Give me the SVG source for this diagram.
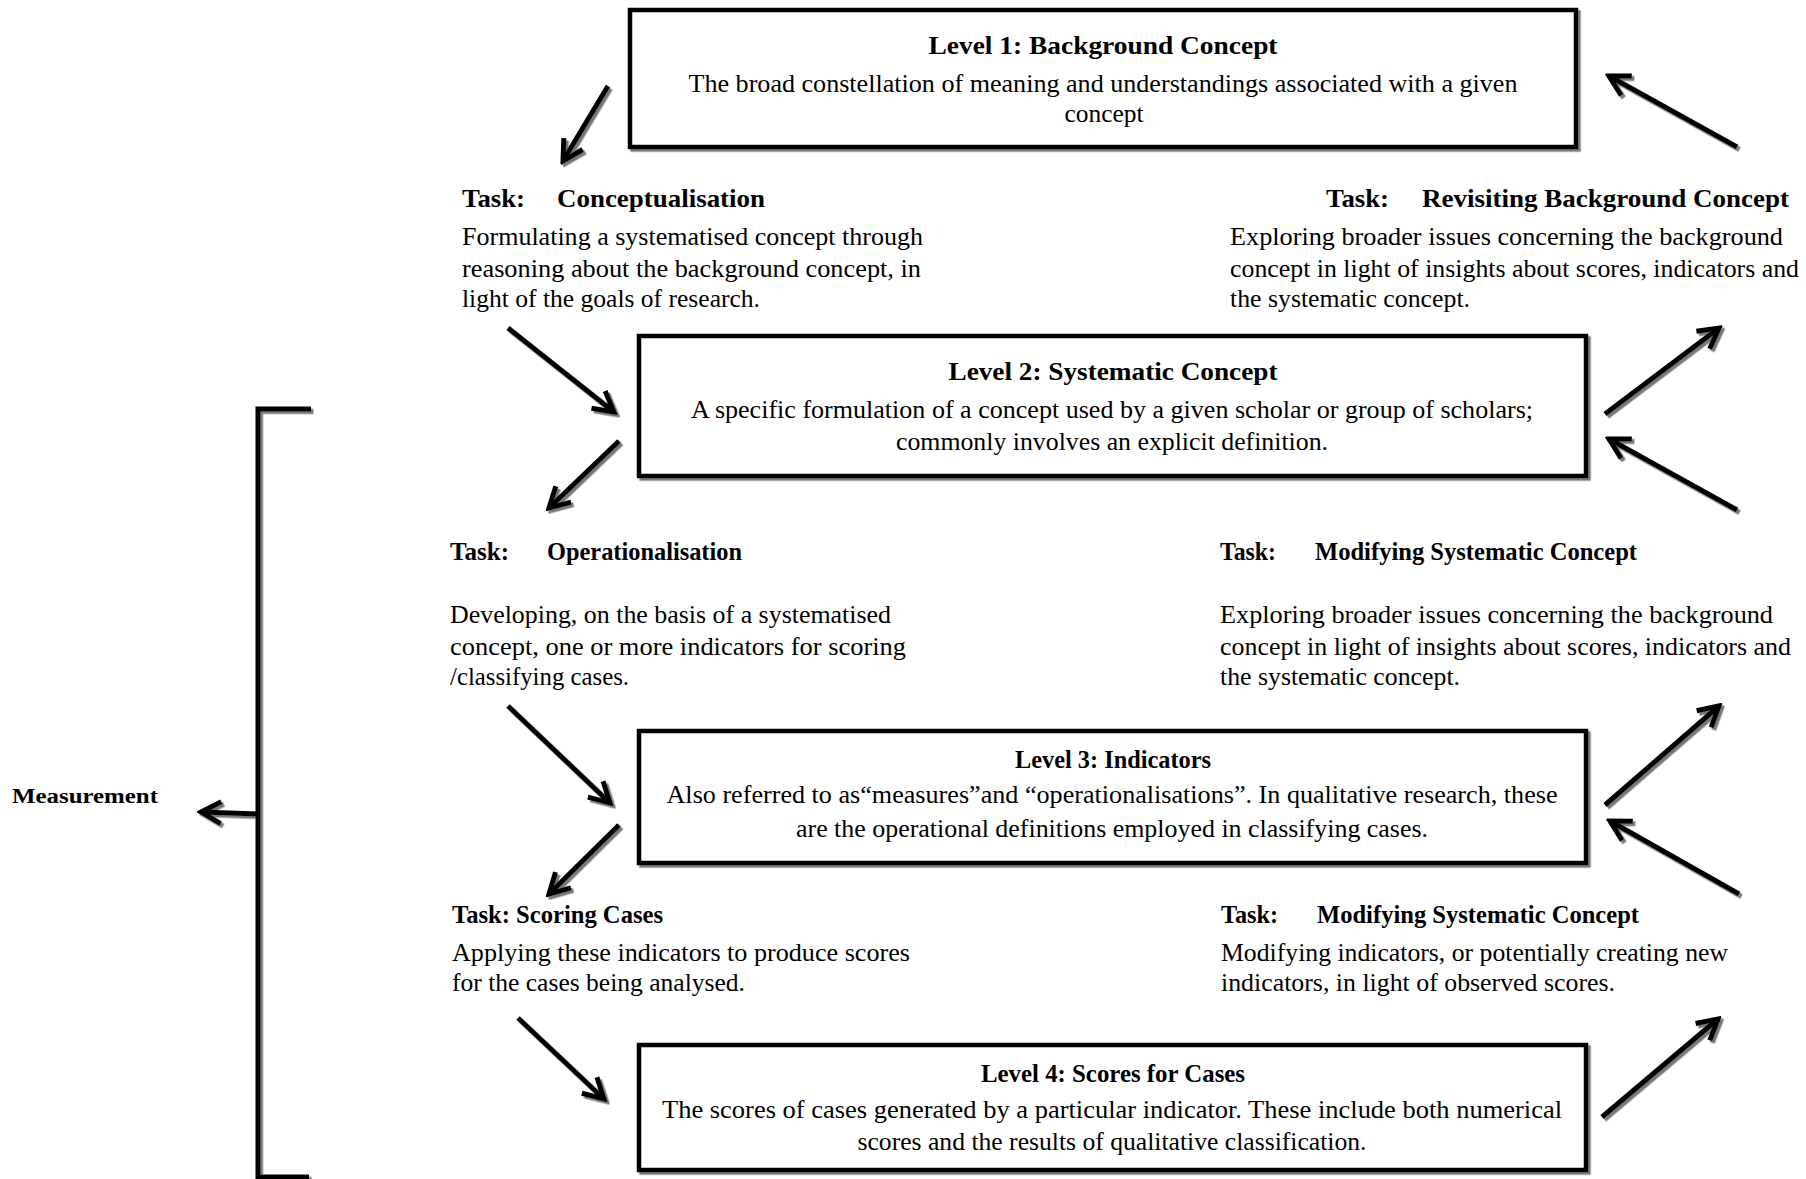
<svg xmlns="http://www.w3.org/2000/svg" width="1806" height="1179" viewBox="0 0 1806 1179">
<style>
.box{fill:#fff;stroke:#000;stroke-width:4.5}
.t{font-family:"Liberation Serif",serif;fill:#000}
.title{font-size:26px;font-weight:bold;text-anchor:middle}
.body{font-size:25px}
.bc{text-anchor:middle}
.task{font-size:26px;font-weight:bold}
.meas{font-family:"Liberation Serif",serif;font-size:22px;font-weight:bold}
.ln{stroke:#000;stroke-width:5;fill:none;stroke-linecap:butt}
</style>
<defs>
<filter id="sh" x="-20%" y="-20%" width="140%" height="140%">
<feDropShadow dx="2.5" dy="2.5" stdDeviation="0.7" flood-color="#777" flood-opacity="1"/>
</filter>
<marker id="ah" viewBox="0 0 28 28" refX="24" refY="14" markerWidth="28" markerHeight="28" markerUnits="userSpaceOnUse" orient="auto">
<path d="M4,3 L24,14 L4,25" fill="none" stroke="#000" stroke-width="5" stroke-linejoin="miter"/>
</marker>
</defs>
<rect width="1806" height="1179" fill="#fff"/>

<g id="level1">
<rect class="box" x="630" y="10" width="946" height="137" filter="url(#sh)"/>
<text class="t title" x="1103" y="54" textLength="349" lengthAdjust="spacingAndGlyphs">Level 1: Background Concept</text>
<text class="t body bc" x="1103" y="92" textLength="829" lengthAdjust="spacingAndGlyphs">The broad constellation of meaning and understandings associated with a given</text>
<text class="t body bc" x="1104" y="122" textLength="79" lengthAdjust="spacingAndGlyphs">concept</text>
</g>

<g id="task-conceptualisation">
<text class="t task" x="462" y="207" textLength="63" lengthAdjust="spacingAndGlyphs">Task:</text>
<text class="t task" x="557" y="207" textLength="208" lengthAdjust="spacingAndGlyphs">Conceptualisation</text>
<text class="t body" x="462" y="245" textLength="461" lengthAdjust="spacingAndGlyphs">Formulating a systematised concept through</text>
<text class="t body" x="462" y="277" textLength="459" lengthAdjust="spacingAndGlyphs">reasoning about the background concept, in</text>
<text class="t body" x="462" y="307" textLength="298" lengthAdjust="spacingAndGlyphs">light of the goals of research.</text>
</g>

<g id="task-revisiting">
<text class="t task" x="1326" y="207" textLength="63" lengthAdjust="spacingAndGlyphs">Task:</text>
<text class="t task" x="1422" y="207" textLength="367" lengthAdjust="spacingAndGlyphs">Revisiting Background Concept</text>
<text class="t body" x="1230" y="245" textLength="553" lengthAdjust="spacingAndGlyphs">Exploring broader issues concerning the background</text>
<text class="t body" x="1230" y="277" textLength="569" lengthAdjust="spacingAndGlyphs">concept in light of insights about scores, indicators and</text>
<text class="t body" x="1230" y="307" textLength="240" lengthAdjust="spacingAndGlyphs">the systematic concept.</text>
</g>

<g id="level2">
<rect class="box" x="639" y="336" width="947" height="140" filter="url(#sh)"/>
<text class="t title" x="1113" y="380" textLength="329" lengthAdjust="spacingAndGlyphs">Level 2: Systematic Concept</text>
<text class="t body bc" x="1112" y="418" textLength="842" lengthAdjust="spacingAndGlyphs">A specific formulation of a concept used by a given scholar or group of scholars;</text>
<text class="t body bc" x="1112" y="450" textLength="432" lengthAdjust="spacingAndGlyphs">commonly involves an explicit definition.</text>
</g>

<g id="task-operationalisation">
<text class="t task" x="450" y="560" textLength="59" lengthAdjust="spacingAndGlyphs">Task:</text>
<text class="t task" x="547" y="560" textLength="195" lengthAdjust="spacingAndGlyphs">Operationalisation</text>
<text class="t body" x="450" y="623" textLength="441" lengthAdjust="spacingAndGlyphs">Developing, on the basis of a systematised</text>
<text class="t body" x="450" y="655" textLength="456" lengthAdjust="spacingAndGlyphs">concept, one or more indicators for scoring</text>
<text class="t body" x="450" y="685" textLength="179" lengthAdjust="spacingAndGlyphs">/classifying cases.</text>
</g>

<g id="task-modifying-1">
<text class="t task" x="1220" y="560" textLength="56" lengthAdjust="spacingAndGlyphs">Task:</text>
<text class="t task" x="1315" y="560" textLength="322" lengthAdjust="spacingAndGlyphs">Modifying Systematic Concept</text>
<text class="t body" x="1220" y="623" textLength="553" lengthAdjust="spacingAndGlyphs">Exploring broader issues concerning the background</text>
<text class="t body" x="1220" y="655" textLength="571" lengthAdjust="spacingAndGlyphs">concept in light of insights about scores, indicators and</text>
<text class="t body" x="1220" y="685" textLength="240" lengthAdjust="spacingAndGlyphs">the systematic concept.</text>
</g>

<g id="level3">
<rect class="box" x="639" y="731" width="947" height="132" filter="url(#sh)"/>
<text class="t title" x="1113" y="768" textLength="196" lengthAdjust="spacingAndGlyphs">Level 3: Indicators</text>
<text class="t body bc" x="1112" y="803" textLength="891" lengthAdjust="spacingAndGlyphs">Also referred to as“measures”and “operationalisations”. In qualitative research, these</text>
<text class="t body bc" x="1112" y="837" textLength="632" lengthAdjust="spacingAndGlyphs">are the operational definitions employed in classifying cases.</text>
</g>

<g id="task-scoring">
<text class="t task" x="452" y="923" textLength="211" lengthAdjust="spacingAndGlyphs">Task: Scoring Cases</text>
<text class="t body" x="452" y="961" textLength="458" lengthAdjust="spacingAndGlyphs">Applying these indicators to produce scores</text>
<text class="t body" x="452" y="991" textLength="293" lengthAdjust="spacingAndGlyphs">for the cases being analysed.</text>
</g>

<g id="task-modifying-2">
<text class="t task" x="1221" y="923" textLength="57" lengthAdjust="spacingAndGlyphs">Task:</text>
<text class="t task" x="1317" y="923" textLength="322" lengthAdjust="spacingAndGlyphs">Modifying Systematic Concept</text>
<text class="t body" x="1221" y="961" textLength="507" lengthAdjust="spacingAndGlyphs">Modifying indicators, or potentially creating new</text>
<text class="t body" x="1221" y="991" textLength="394" lengthAdjust="spacingAndGlyphs">indicators, in light of observed scores.</text>
</g>

<g id="level4">
<rect class="box" x="639" y="1045" width="947" height="125" filter="url(#sh)"/>
<text class="t title" x="1113" y="1082" textLength="264" lengthAdjust="spacingAndGlyphs">Level 4: Scores for Cases</text>
<text class="t body bc" x="1112" y="1118" textLength="900" lengthAdjust="spacingAndGlyphs">The scores of cases generated by a particular indicator. These include both numerical</text>
<text class="t body bc" x="1112" y="1150" textLength="509" lengthAdjust="spacingAndGlyphs">scores and the results of qualitative classification.</text>
</g>

<g id="measurement">
<text class="meas" x="12" y="803" textLength="146" lengthAdjust="spacingAndGlyphs">Measurement</text>
</g>

<g id="connectors" filter="url(#sh)">
<line class="ln" x1="608" y1="86" x2="563" y2="161" marker-end="url(#ah)"/>
<line class="ln" x1="1737" y1="147" x2="1609" y2="76" marker-end="url(#ah)"/>
<line class="ln" x1="508" y1="328" x2="614" y2="412" marker-end="url(#ah)"/>
<line class="ln" x1="1605" y1="414" x2="1719" y2="328" marker-end="url(#ah)"/>
<line class="ln" x1="1737" y1="510" x2="1609" y2="439" marker-end="url(#ah)"/>
<line class="ln" x1="619" y1="441" x2="549" y2="508" marker-end="url(#ah)"/>
<line class="ln" x1="508" y1="706" x2="610" y2="803" marker-end="url(#ah)"/>
<line class="ln" x1="1605" y1="805" x2="1719" y2="706" marker-end="url(#ah)"/>
<line class="ln" x1="1739" y1="894" x2="1610" y2="821" marker-end="url(#ah)"/>
<line class="ln" x1="619" y1="825" x2="549" y2="894" marker-end="url(#ah)"/>
<line class="ln" x1="518" y1="1018" x2="604" y2="1099" marker-end="url(#ah)"/>
<line class="ln" x1="1602" y1="1117" x2="1718" y2="1019" marker-end="url(#ah)"/>
<polyline class="ln" points="311,409 258,409 258,1177 309,1177"/>
<line class="ln" x1="258" y1="814" x2="201" y2="812" marker-end="url(#ah)"/>
</g>
</svg>
